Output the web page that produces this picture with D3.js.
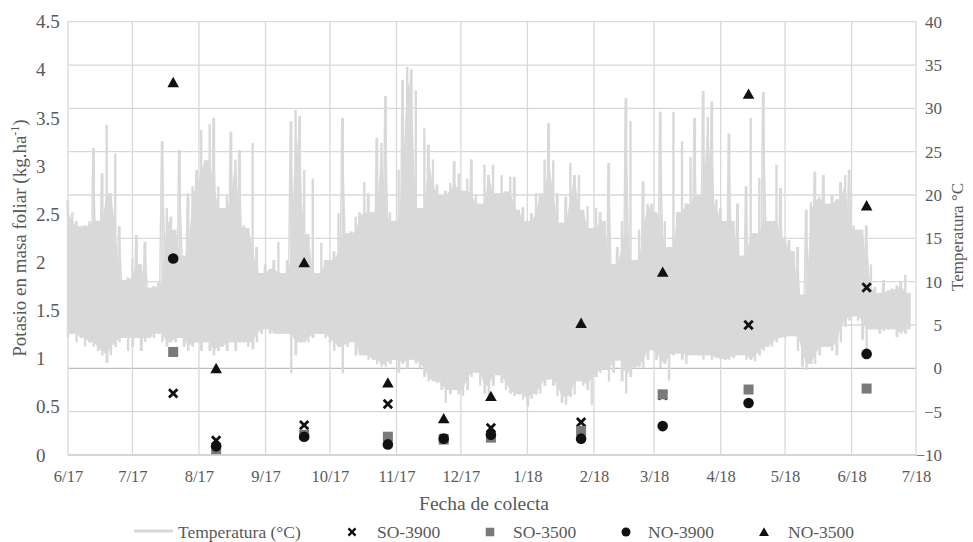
<!DOCTYPE html>
<html><head><meta charset="utf-8">
<script src="https://cdn.jsdelivr.net/npm/d3@7"></script>
<style>
body{margin:0;background:#fff}
svg{display:block}
text{font-family:"Liberation Serif","Times New Roman",serif;fill:#595959}
</style>
</head><body>
<svg id="chart" width="973" height="542"></svg>
<script>
// ---------- DATA ----------
const collectDates = ["2017-07-20","2017-08-09","2017-09-19","2017-10-28","2017-11-23","2017-12-15","2018-01-26","2018-03-05","2018-04-14","2018-06-08"];
const so3900 = [0.64, 0.15, 0.31, 0.53, 0.17, 0.28, 0.34, 0.62, 1.35, 1.74];
const so3500 = [1.07, 0.06, 0.21, 0.19, 0.16, 0.18, 0.25, 0.63, 0.68, 0.69];
const no3900 = [2.04, 0.09, 0.19, 0.11, 0.17, 0.21, 0.17, 0.30, 0.54, 1.05];
const no3500 = [3.87, 0.90, 2.00, 0.75, 0.38, 0.61, 1.37, 1.90, 3.75, 2.59];

// temperature envelope (°C), one sample every 2 days from 2017-06-01
const tempStart = "2017-06-01";
const tempStepDays = 2;
const tempHigh = [
 19.4,18,17,16.4,16.5,17,25.4,17,22.5,28.1,20.2,24.8,16.4,10.2,10.5,12.7,15.4,12,14.6,9.3,
 9.5,10,26.2,18.5,17.5,16,25.2,13,20.2,21,22.9,27.5,24,28.2,28.9,21,18.5,20,27.3,24.1,
 25.2,16.5,16.2,26,14,11,12,11.5,12.5,14.6,11,12.5,28.5,29.8,29.1,22.9,15.5,21.9,11,14.5,
 12.5,12.5,13.5,17.9,28.9,15.6,15.8,17.5,18,21.5,20.2,18,26.6,26,31.4,18,17,22.9,33.3,34.8,
 34.5,32.1,18.5,27.7,25.8,24.1,21.2,20,20.5,21.4,23.9,22.5,20.5,21.9,24.1,20,19,23.5,22.3,23.5,
 20.2,22.3,20.4,22.1,22.1,18.3,18.6,17,17.9,20.2,20.2,24.1,28.3,24,20.2,16.8,19.8,23.7,22.3,
 22.3,18.3,18.7,16.2,18.5,18,17,23.7,12,14,17,31.2,28.5,12.5,16,21.6,19,19,18,29.6,
 17,14,29.6,18,26.2,19,24.4,28.9,20,32,29,30.8,19.5,18.5,17,27.1,17,19,13,
 21,28.9,15.6,22,31.9,17,17,23.5,20.8,15.2,14.8,13.5,14,8.5,18.3,19.2,22.7,19.8,22.3,19,
 20,19.5,21.5,22.3,22.9,16.5,16,16,16.5,12,9.4,8.7,10.2,9,9.2,9.6,10,10.8,8.7
];
const tempLow = [
 3.5,4,3,3.5,2.5,3,2.5,2,1.5,0.6,1.5,2.5,3,3.5,2,2.5,3.5,2,3,3.5,
 3.5,4,3,2.5,3,3,3.5,2.5,2,2.5,3,2,3,2,1.5,2,2.5,2,3,2,
 3,3,2.5,2.2,3,4,4.5,4,4,4,4,4,-0.6,1.5,3,3,3,3.5,4,4,
 3.5,3,2,2.5,-0.6,2.5,3,1.5,1.5,1.5,1,1,0.5,0.2,0.2,0.5,1,-0.5,0.5,0,
 1,0.6,0,-1,-1.5,-1.5,-1.7,-2.5,-4,-3,-2.5,-3,-3.2,-2.5,-1,-0.5,-2,-2.9,-3.3,-2,
 -0.8,-1.7,-2.5,-2.9,-3.2,-3,-3.6,-4.4,-3.5,-3,-2.9,-2,-1.3,-2,-3.2,-4,-4.2,-3.3,-3,
 -1.5,-2,-2.5,-4.2,-1,-0.5,-0.2,-1.5,-0.5,0.9,-1.5,-2.9,-1,0,0.2,0,1,2.1,1,0,
 0.5,-1.4,1.5,1.7,1,0.5,1.5,1.5,1.5,1,1.5,1,1.2,1,1,1,1.2,1.5,1.5,
 1,1,0.8,1.5,2,2.5,2.5,3,3.5,3.5,3.7,3.7,2,0.2,-0.2,0.5,0.5,1.5,2.5,2.5,
 2,1.5,3,4.8,5.5,6,5.5,3.3,1.8,4.5,4.5,4,4.3,4.5,4.5,3.6,4,4,4.5
];

const leftTicks = [0,0.5,1,1.5,2,2.5,3,3.5,4,4.5];
const rightTicks = [-10,-5,0,5,10,15,20,25,30,35,40];
const monthTicks = ["2017-06-01","2017-07-01","2017-08-01","2017-09-01","2017-10-01","2017-11-01","2017-12-01","2018-01-01","2018-02-01","2018-03-01","2018-04-01","2018-05-01","2018-06-01","2018-07-01"];
const monthLabels = ["6/17","7/17","8/17","9/17","10/17","11/17","12/17","1/18","2/18","3/18","4/18","5/18","6/18","7/18"];

const seriesNames = ["SO-3900","SO-3500","NO-3900","NO-3500"];
const tempName = "Temperatura (°C)";

// ---------- CHART ----------
const parse = d3.utcParse("%Y-%m-%d");
const svg = d3.select("#chart");
const L = 68, R = 916, T = 21.7, B = 455;

const x = d3.scaleUtc().domain([parse(monthTicks[0]), parse(monthTicks[monthTicks.length-1])]).range([L, R]);
const yT = d3.scaleLinear().domain([-10, 40]).range([B, T]);
const yK = d3.scaleLinear().domain([0, 4.5]).range([B, T]);

const GRID = "#d9d9d9";
svg.append("g").selectAll("line").data(rightTicks).join("line")
  .attr("x1", L).attr("x2", R)
  .attr("y1", d => yT(d)).attr("y2", d => yT(d))
  .attr("stroke", d => d === 0 ? "#bfbfbf" : GRID).attr("stroke-width", 1.3);
svg.append("g").selectAll("line").data(monthTicks).join("line")
  .attr("x1", d => x(parse(d))).attr("x2", d => x(parse(d)))
  .attr("y1", T).attr("y2", B)
  .attr("stroke", GRID).attr("stroke-width", 1.3);

// temperature: dense core band + thin daily extremes
const t0 = parse(tempStart);
const tempData = tempHigh.map((h, i) => ({ date: d3.utcDay.offset(t0, i * tempStepDays), hi: h, lo: tempLow[i] }));
const n = tempData.length;
tempData.forEach((d, i) => {
  const a = tempData[Math.max(0, i - 1)], b = tempData[Math.min(n - 1, i + 1)];
  d.coreHi = Math.min(a.hi, d.hi, b.hi);
  d.coreLo = Math.max(a.lo, d.lo, b.lo);
});
const TEMPC = "#d9d9d9";
svg.append("path").datum(tempData)
  .attr("fill", TEMPC)
  .attr("d", d3.area().x(d => x(d.date)).y0(d => yT(d.coreLo)).y1(d => yT(d.coreHi)).curve(d3.curveLinear));
svg.append("g").selectAll("line").data(tempData).join("line")
  .attr("x1", d => x(d.date)).attr("x2", d => x(d.date))
  .attr("y1", d => yT(d.lo)).attr("y2", d => yT(d.hi))
  .attr("stroke", TEMPC).attr("stroke-width", 2.4);
svg.append("path").datum(tempData)
  .attr("fill", "none").attr("stroke", TEMPC).attr("stroke-width", 1.4)
  .attr("d", d3.line().x((d, i) => x(d.date) + (i % 2 ? 1 : -1)).y((d, i) => yT(i % 2 ? d.lo : d.hi)));

svg.append("line").attr("x1", L).attr("x2", R).attr("y1", B).attr("y2", B).attr("stroke", "#d0d0d0").attr("stroke-width", 1.3);

// markers
const cDates = collectDates.map(parse);
const crossPath = "M-4.2,-4.2L4.2,4.2M-4.2,4.2L4.2,-4.2";
const triPath = "M0,-5.5L5.8,4.8L-5.8,4.8Z";
function drawMarker(g, kind) {
  if (kind === 0) g.append("path").attr("d", crossPath).attr("stroke", "#111").attr("stroke-width", 2.8).attr("fill", "none");
  else if (kind === 1) g.append("rect").attr("x", -5).attr("y", -5).attr("width", 10).attr("height", 10).attr("fill", "#7a7a7a");
  else if (kind === 2) g.append("circle").attr("r", 5.3).attr("fill", "#111");
  else g.append("path").attr("d", triPath).attr("fill", "#111");
}
[so3900, so3500, no3900, no3500].forEach((vals, k) => {
  svg.append("g").selectAll("g").data(vals).join("g")
    .attr("transform", (v, i) => `translate(${x(cDates[i])},${yK(v)})`)
    .each(function () { drawMarker(d3.select(this), k); });
});

// left axis
const gl = svg.append("g").attr("transform", "translate(36,0)")
  .call(d3.axisLeft(yK).tickValues(leftTicks).tickSize(0).tickFormat(d3.format("~g")));
gl.select(".domain").remove();
gl.selectAll("text").attr("x", 0).attr("text-anchor", "start").style("font-size", "19px")
  .style("font-family", "'Liberation Serif',serif").attr("fill", "#595959");

// right axis
const gr = svg.append("g").attr("transform", `translate(${R},0)`)
  .call(d3.axisRight(yT).tickValues(rightTicks).tickSize(0));
gr.select(".domain").remove();
gr.selectAll("text").attr("x", 26).attr("text-anchor", "end").style("font-size", "17px")
  .style("font-family", "'Liberation Serif',serif").attr("fill", "#595959");

// bottom axis
const gb = svg.append("g").attr("transform", `translate(0,${B})`)
  .call(d3.axisBottom(x).tickValues(monthTicks.map(parse)).tickSize(0).tickPadding(15).tickFormat((d, i) => monthLabels[i]));
gb.select(".domain").remove();
gb.selectAll("text").style("font-size", "16.5px").style("font-family", "'Liberation Serif',serif").attr("fill", "#595959");

// axis titles
const lt = svg.append("text").attr("transform", "translate(26,238) rotate(-90)").attr("text-anchor", "middle").style("font-size", "19px");
lt.append("tspan").text("Potasio en masa foliar (kg.ha");
lt.append("tspan").attr("dy", -7).style("font-size", "12px").text("-1");
lt.append("tspan").attr("dy", 7).text(")");

svg.append("text").attr("transform", "translate(963,237) rotate(-90)").attr("text-anchor", "middle").style("font-size", "17px").text("Temperatura °C");
svg.append("text").attr("x", 484).attr("y", 510).attr("text-anchor", "middle").style("font-size", "19.5px").text("Fecha de colecta");

// legend
const legY = 532;
const lg = svg.append("g");
lg.append("line").attr("x1", 134).attr("x2", 173).attr("y1", legY - 1).attr("y2", legY - 1).attr("stroke", "#d9d9d9").attr("stroke-width", 3);
lg.append("text").attr("x", 178).attr("y", legY + 6).style("font-size", "17.5px").text(tempName);
const legX = [352, 490, 626, 764];
const legTextX = [377, 513, 648, 788];
seriesNames.forEach((name, k) => {
  const g = lg.append("g").attr("transform", `translate(${legX[k]},${legY}) scale(0.85)`);
  drawMarker(g, k);
  lg.append("text").attr("x", legTextX[k]).attr("y", legY + 6).style("font-size", "17.5px").text(name);
});
</script>
</body></html>
